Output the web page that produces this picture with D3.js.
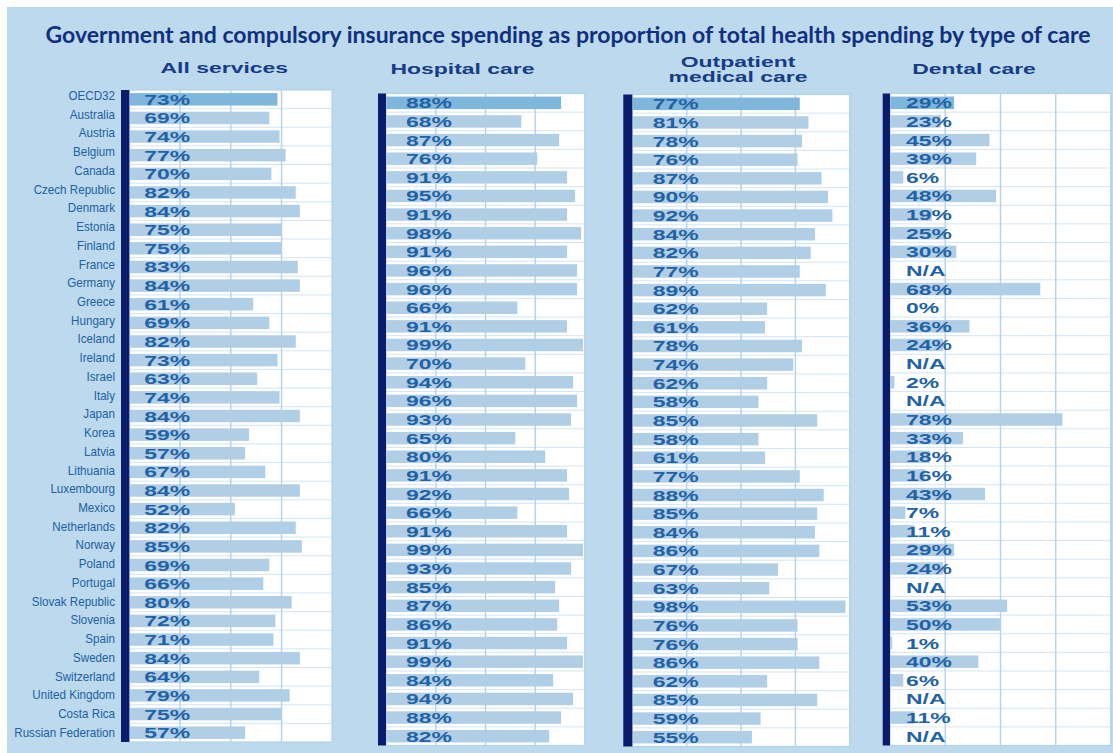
<!DOCTYPE html>
<html>
<head>
<meta charset="utf-8">
<script src="https://cdn.jsdelivr.net/npm/d3@7"></script>
<style>
  html, body { margin: 0; padding: 0; background: #ffffff; }
  svg { display: block; }
</style>
</head>
<body>
<svg id="chart" width="1113" height="753"></svg>
<script>
// Government and compulsory insurance spending as a share of total health spending
const countries = [
  "OECD32", "Australia", "Austria", "Belgium", "Canada", "Czech Republic", "Denmark",
  "Estonia", "Finland", "France", "Germany", "Greece", "Hungary", "Iceland", "Ireland",
  "Israel", "Italy", "Japan", "Korea", "Latvia", "Lithuania", "Luxembourg", "Mexico",
  "Netherlands", "Norway", "Poland", "Portugal", "Slovak Republic", "Slovenia", "Spain",
  "Sweden", "Switzerland", "United Kingdom", "Costa Rica", "Russian Federation"
];

const allServices = [73, 69, 74, 77, 70, 82, 84, 75, 75, 83, 84, 61, 69, 82, 73, 63, 74, 84,
  59, 57, 67, 84, 52, 82, 85, 69, 66, 80, 72, 71, 84, 64, 79, 75, 57];

const hospitalCare = [88, 68, 87, 76, 91, 95, 91, 98, 91, 96, 96, 66, 91, 99, 70, 94, 96, 93,
  65, 80, 91, 92, 66, 91, 99, 93, 85, 87, 86, 91, 99, 84, 94, 88, 82];

const outpatientCare = [77, 81, 78, 76, 87, 90, 92, 84, 82, 77, 89, 62, 61, 78, 74, 62, 58, 85,
  58, 61, 77, 88, 85, 84, 86, 67, 63, 98, 76, 76, 86, 62, 85, 59, 55];

// null = not available
const dentalCare = [29, 23, 45, 39, 6, 48, 19, 25, 30, null, 68, 0, 36, 24, null, 2, null, 78,
  33, 18, 16, 43, 7, 11, 29, 24, null, 53, 50, 1, 40, 6, null, 11, null];

const panelHeadings = [["All services"], ["Hospital care"], ["Outpatient", "medical care"], ["Dental care"]];
const gridTicks = [25, 50, 75, 100];
const titleText = "Government and compulsory insurance spending as proportion of total health spending by type of care";

const W = 1113, H = 753;
const svg = d3.select("#chart");

const C = {
  bg: "#bcd9ed",
  plot: "#ffffff",
  grid: "#b4d2ea",
  rowLine: "#d3e5f3",
  axis: "#0b1c6c",
  barAvg: "#7fb6db",
  bar: "#b1cee7",
  value: "#1f63a6",
  label: "#2060a4",
  heading: "#173c86",
  title: "#10307f"
};

// page backdrop
svg.append("rect").attr("width", W).attr("height", H).attr("fill", "#ffffff");
svg.append("rect").attr("x", 7).attr("y", 7).attr("width", W - 7).attr("height", H - 7).attr("fill", C.bg);

// title
svg.append("text")
  .attr("x", 568).attr("y", 42.5)
  .attr("text-anchor", "middle")
  .attr("textLength", 1045)
  .attr("lengthAdjust", "spacingAndGlyphs")
  .style("font-family", "Lato, 'Open Sans', sans-serif")
  .style("font-weight", 700)
  .style("font-size", "23px")
  .attr("fill", C.title)
  .text(titleText);

// country labels down the left side (slightly condensed)
const labelY = d3.scalePoint().domain(countries).range([100, 736.7]);
svg.append("g")
  .selectAll("text")
  .data(countries)
  .join("text")
  .attr("transform", d => `translate(115,${labelY(d)}) scale(0.93,1)`)
  .attr("text-anchor", "end")
  .style("font-family", "'Liberation Sans', Arial, sans-serif")
  .style("font-size", "12.5px")
  .attr("fill", C.label)
  .text(d => d);

// panel frames
const panels = [
  { values: allServices,    axisX: 121,   x0: 129.3, w: 203,   top: 90,   bottom: 742,   textDx: 15,   headX: 224.3, headY: [73.3] },
  { values: hospitalCare,   axisX: 378,   x0: 386,   w: 199,   top: 93.5, bottom: 745.5, textDx: 20,   headX: 462.5, headY: [74] },
  { values: outpatientCare, axisX: 623.3, x0: 632.3, w: 217.5, top: 94.5, bottom: 746.5, textDx: 20.5, headX: 738,   headY: [66.7, 82] },
  { values: dentalCare,     axisX: 882.7, x0: 890,   w: 221,   top: 93.5, bottom: 745.5, textDx: 16,   headX: 974,   headY: [74] }
];

const stretch = 1.64;
const boldFont = "'Liberation Sans', Arial, sans-serif";

panels.forEach((p, pi) => {
  const g = svg.append("g");
  const x = d3.scaleLinear().domain([0, 100]).range([p.x0, p.x0 + p.w]);
  const y = d3.scaleBand().domain(countries).range([p.top, p.bottom])
    .paddingInner(0.33).paddingOuter(0.165);
  const rows = countries.map((c, i) => ({ country: c, value: p.values[i], i }));

  // heading
  panelHeadings[pi].forEach((line, li) => {
    g.append("text")
      .attr("transform", `translate(${p.headX},${p.headY[li]}) scale(${stretch},1)`)
      .attr("text-anchor", "middle")
      .style("font-family", boldFont)
      .style("font-weight", 700)
      .style("font-size", "14px")
      .attr("fill", C.heading)
      .text(line);
  });

  // plot area
  g.append("rect")
    .attr("x", p.x0).attr("y", p.top)
    .attr("width", p.w).attr("height", p.bottom - p.top)
    .attr("fill", C.plot);

  // row separators
  g.append("g")
    .selectAll("line")
    .data(countries.slice(1))
    .join("line")
    .attr("x1", p.x0).attr("x2", p.x0 + p.w)
    .attr("y1", d => y(d) - y.step() * y.paddingInner() / 2)
    .attr("y2", d => y(d) - y.step() * y.paddingInner() / 2)
    .attr("stroke", C.rowLine)
    .attr("stroke-width", 1);

  // vertical gridlines
  g.append("g")
    .selectAll("line")
    .data(gridTicks)
    .join("line")
    .attr("x1", d => x(d)).attr("x2", d => x(d))
    .attr("y1", p.top).attr("y2", p.bottom)
    .attr("stroke", C.grid)
    .attr("stroke-width", 1.4);

  // bars
  g.append("g")
    .selectAll("rect")
    .data(rows.filter(r => r.value !== null))
    .join("rect")
    .attr("x", x(0))
    .attr("y", r => y(r.country))
    .attr("width", r => x(r.value) - x(0))
    .attr("height", y.bandwidth())
    .attr("fill", r => r.i === 0 ? C.barAvg : C.bar);

  // frame
  g.append("rect")
    .attr("x", p.x0).attr("y", p.top)
    .attr("width", p.w).attr("height", p.bottom - p.top)
    .attr("fill", "none")
    .attr("stroke", C.grid)
    .attr("stroke-width", 1.2);

  // category axis bar
  g.append("rect")
    .attr("x", p.axisX).attr("y", p.top)
    .attr("width", p.x0 - p.axisX).attr("height", p.bottom - p.top)
    .attr("fill", C.axis);

  // value labels
  g.append("g")
    .selectAll("text")
    .data(rows)
    .join("text")
    .attr("transform", r => `translate(${x(0) + p.textDx},${y(r.country) + y.bandwidth() / 2 + 5.5}) scale(${stretch},1)`)
    .style("font-family", boldFont)
    .style("font-weight", 700)
    .style("font-size", "14px")
    .attr("fill", C.value)
    .text(r => r.value === null ? "N/A" : d3.format("d")(r.value) + "%");
});
</script>
</body>
</html>
